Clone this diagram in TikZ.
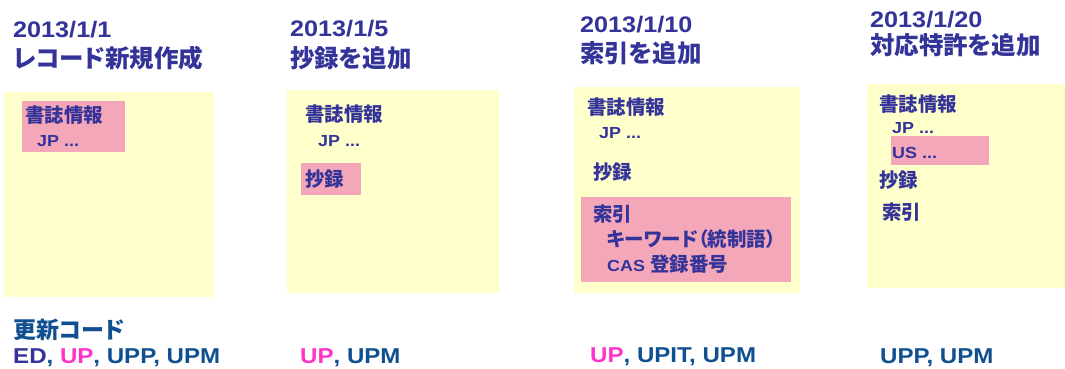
\documentclass[tikz,border=0pt]{standalone}
\usepackage{fontspec}
\setmainfont{Liberation Sans}[FakeStretch=1.12]
\newfontfamily\J{Noto Sans CJK JP}[RawFeature=+palt]
\definecolor{ttlc}{HTML}{333399}
\definecolor{codec}{HTML}{105091}
\definecolor{magc}{HTML}{FF33CC}
\definecolor{yel}{HTML}{FFFFCC}
\definecolor{pnk}{HTML}{F4A7B9}
\tikzset{
  txt/.style={anchor=base west, inner sep=0pt, font=\bfseries},
  ttl/.style={txt, text=ttlc, font=\bfseries\fontsize{22.5}{24}\selectfont},
  ttlj/.style={txt, text=ttlc, font=\J\bfseries\fontsize{24.5}{26}\selectfont},
  inr/.style={txt, text=ttlc, font=\bfseries\fontsize{16}{18}\selectfont},
  inrj/.style={txt, text=ttlc, font=\J\bfseries\fontsize{19.5}{22}\selectfont},
  code/.style={txt, text=codec, font=\bfseries\fontsize{21.5}{24}\selectfont},
  codej/.style={txt, text=codec, font=\J\bfseries\fontsize{23}{26}\selectfont},
  yelbox/.style={fill=yel, draw=none},
  pnkbox/.style={fill=pnk, draw=none},
}
\begin{document}
\begin{tikzpicture}[x=1pt,y=-1pt]
\useasboundingbox (0,0) rectangle (1065,368);
\fill[white] (0,0) rectangle (1065,368);
% Panel 1
\fill[yelbox] (4,92) rectangle (214,297);
\fill[pnkbox] (22,101) rectangle (125,152);
\node[ttl] (t1a) at (13,37) {2013/1/1};
\node[ttlj] (t1b) at (13,67) {レコード新規作成};
\node[inrj] (a1) at (25,122) {書誌情報};
\node[inr] (b1) at (37,146) {JP ...};
\node[codej] (c1) at (13,338) {更新コード};
\node[code] (d1) at (13,363.5) {\textcolor{ttlc}{ED}, \textcolor{magc}{UP}, UPP, UPM};
% Panel 2
\fill[yelbox] (287,90) rectangle (499,293);
\fill[pnkbox] (301,163) rectangle (361,195);
\node[ttl] (t2a) at (290,36) {2013/1/5};
\node[ttlj] (t2b) at (290,67) {抄録を追加};
\node[inrj] (a2) at (305,121) {書誌情報};
\node[inr] (b2) at (318,146) {JP ...};
\node[inrj] (e2) at (305,186) {抄録};
\node[code] (d2) at (300,363) {\textcolor{magc}{UP}, UPM};
% Panel 3
\fill[yelbox] (574,87) rectangle (800,293);
\fill[pnkbox] (581,197) rectangle (791,282);
\node[ttl] (t3a) at (580,32) {2013/1/10};
\node[ttlj] (t3b) at (580,62) {索引を追加};
\node[inrj] (a3) at (587,114) {書誌情報};
\node[inr] (b3) at (599,138) {JP ...};
\node[inrj] (e3) at (593,179) {抄録};
\node[inrj] (f3) at (593,221) {索引};
\node[inrj] (g3) at (607,246) {キーワード（統制語）};
\node[inr] (h3) at (607,271) {CAS {\J\fontsize{19.5}{22}\selectfont 登録番号}};
\node[code] (d3) at (590,362) {\textcolor{magc}{UP}, UPIT, UPM};
% Panel 4
\fill[yelbox] (867,84) rectangle (1065,288);
\fill[pnkbox] (891,136) rectangle (989,165);
\node[ttl] (t4a) at (870,27) {2013/1/20};
\node[ttlj] (t4b) at (870,54) {対応特許を追加};
\node[inrj] (a4) at (879,111) {書誌情報};
\node[inr] (b4) at (892,133) {JP ...};
\node[inr] (u4) at (892,158) {US ...};
\node[inrj] (e4) at (879,187) {抄録};
\node[inrj] (f4) at (882,219) {索引};
\node[code] (d4) at (880,363) {UPP, UPM};
\end{tikzpicture}
\end{document}
